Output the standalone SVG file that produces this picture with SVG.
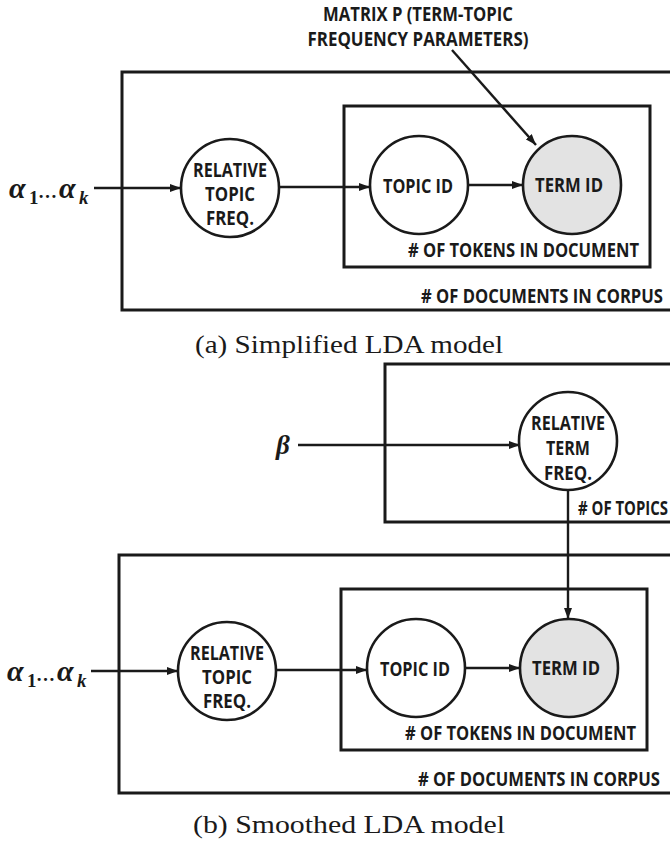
<svg xmlns="http://www.w3.org/2000/svg" width="670" height="842" viewBox="0 0 670 842">
  <style>
    .plate { fill: none; stroke: #1a1a1a; stroke-width: 3; }
    .node { fill: #ffffff; stroke: #1a1a1a; stroke-width: 2.6; }
    .obs { fill: #e3e3e3; }
    .edge { fill: none; stroke: #1a1a1a; stroke-width: 2.4; marker-end: url(#arrow); }
    .lbl { font-family: "Open Sans", Lato, "Liberation Sans", sans-serif; font-weight: 700; font-size: 19px; fill: #1a1a1a; }
    .mid { text-anchor: middle; }
    .math { font-family: "Liberation Serif", "DejaVu Serif", serif; font-weight: 700; font-style: italic; fill: #1a1a1a; }
    .cap { font-family: "Liberation Serif", "DejaVu Serif", serif; font-size: 25px; fill: #1a1a1a; }
  </style>
  <defs>
    <marker id="arrow" markerUnits="userSpaceOnUse" markerWidth="11" markerHeight="8" refX="11" refY="4" orient="auto">
      <path d="M0,0 L11,4 L0,8 z" fill="#1a1a1a"/>
    </marker>
  </defs>

  <rect width="670" height="842" fill="#ffffff"/>

  <!-- (a) simplified model -->
  <g id="a-documents-plate">
    <path class="plate" d="M670,72 H122 V310 H670"/>
    <text class="lbl" x="421" y="302.5" textLength="242" lengthAdjust="spacingAndGlyphs"># OF DOCUMENTS IN CORPUS</text>
  </g>
  <g id="a-tokens-plate">
    <rect class="plate" x="344" y="106" width="306" height="161"/>
    <text class="lbl" x="408" y="256.5" textLength="231" lengthAdjust="spacingAndGlyphs"># OF TOKENS IN DOCUMENT</text>
  </g>
  <g id="a-matrix-label">
    <text class="lbl mid" x="418" y="21" textLength="190" lengthAdjust="spacingAndGlyphs">MATRIX P (TERM-TOPIC</text>
    <text class="lbl mid" x="418" y="46" textLength="221" lengthAdjust="spacingAndGlyphs">FREQUENCY PARAMETERS)</text>
  </g>
  <g id="a-alpha">
    <text class="math" y="198"><tspan x="9" font-size="30">α</tspan><tspan x="29" y="204" font-size="19" font-style="normal">1</tspan><tspan x="38" y="198" font-size="19" font-style="normal">…</tspan><tspan x="59" y="198" font-size="30">α</tspan><tspan x="79" y="204" font-size="19">k</tspan></text>
  </g>
  <g id="a-topic-freq">
    <circle class="node" cx="230" cy="188" r="49"/>
    <text class="lbl mid" x="230" y="177" textLength="74" lengthAdjust="spacingAndGlyphs">RELATIVE</text>
    <text class="lbl mid" x="230" y="201" textLength="50" lengthAdjust="spacingAndGlyphs">TOPIC</text>
    <text class="lbl mid" x="230" y="225" textLength="48" lengthAdjust="spacingAndGlyphs">FREQ.</text>
  </g>
  <g id="a-topic-id">
    <circle class="node" cx="419" cy="185" r="49"/>
    <text class="lbl mid" x="418" y="193" textLength="70" lengthAdjust="spacingAndGlyphs">TOPIC ID</text>
  </g>
  <g id="a-term-id">
    <circle class="node obs" cx="572" cy="185" r="49"/>
    <text class="lbl mid" x="569" y="192" textLength="68" lengthAdjust="spacingAndGlyphs">TERM ID</text>
  </g>
  <g id="a-edges">
    <line class="edge" x1="94" y1="188" x2="181" y2="188"/>
    <line class="edge" x1="279" y1="187" x2="370" y2="187"/>
    <line class="edge" x1="468" y1="185" x2="523" y2="185"/>
    <line class="edge" x1="452" y1="50" x2="536" y2="145"/>
  </g>
  <text id="caption-a" class="cap" x="195" y="353" textLength="308" lengthAdjust="spacingAndGlyphs">(a) Simplified LDA model</text>

  <!-- (b) smoothed model -->
  <g id="b-topics-plate">
    <path class="plate" d="M670,364 H385 V522 H670"/>
    <text class="lbl" x="578" y="514.5" textLength="90" lengthAdjust="spacingAndGlyphs"># OF TOPICS</text>
  </g>
  <g id="b-documents-plate">
    <path class="plate" d="M670,555 H119 V793 H670"/>
    <text class="lbl" x="418" y="785.5" textLength="242" lengthAdjust="spacingAndGlyphs"># OF DOCUMENTS IN CORPUS</text>
  </g>
  <g id="b-tokens-plate">
    <rect class="plate" x="341" y="589" width="306" height="161"/>
    <text class="lbl" x="405" y="739.5" textLength="231" lengthAdjust="spacingAndGlyphs"># OF TOKENS IN DOCUMENT</text>
  </g>
  <g id="b-beta">
    <text class="math" x="276" y="454" font-size="27">β</text>
  </g>
  <g id="b-term-freq">
    <circle class="node" cx="568" cy="441" r="49"/>
    <text class="lbl mid" x="568" y="430" textLength="74" lengthAdjust="spacingAndGlyphs">RELATIVE</text>
    <text class="lbl mid" x="568" y="455" textLength="44" lengthAdjust="spacingAndGlyphs">TERM</text>
    <text class="lbl mid" x="568" y="480" textLength="48" lengthAdjust="spacingAndGlyphs">FREQ.</text>
  </g>
  <g id="b-alpha">
    <text class="math" y="681"><tspan x="7" font-size="30">α</tspan><tspan x="27" y="687" font-size="19" font-style="normal">1</tspan><tspan x="36" y="681" font-size="19" font-style="normal">…</tspan><tspan x="57" y="681" font-size="30">α</tspan><tspan x="77" y="687" font-size="19">k</tspan></text>
  </g>
  <g id="b-topic-freq">
    <circle class="node" cx="227" cy="671" r="49"/>
    <text class="lbl mid" x="227" y="660" textLength="74" lengthAdjust="spacingAndGlyphs">RELATIVE</text>
    <text class="lbl mid" x="227" y="684" textLength="50" lengthAdjust="spacingAndGlyphs">TOPIC</text>
    <text class="lbl mid" x="227" y="708" textLength="48" lengthAdjust="spacingAndGlyphs">FREQ.</text>
  </g>
  <g id="b-topic-id">
    <circle class="node" cx="416" cy="668" r="49"/>
    <text class="lbl mid" x="415" y="676" textLength="70" lengthAdjust="spacingAndGlyphs">TOPIC ID</text>
  </g>
  <g id="b-term-id">
    <circle class="node obs" cx="569" cy="668" r="49"/>
    <text class="lbl mid" x="566" y="675" textLength="68" lengthAdjust="spacingAndGlyphs">TERM ID</text>
  </g>
  <g id="b-edges">
    <line class="edge" x1="298" y1="445" x2="520" y2="445"/>
    <line class="edge" x1="568" y1="490" x2="568" y2="619"/>
    <line class="edge" x1="91" y1="671" x2="178" y2="671"/>
    <line class="edge" x1="276" y1="670" x2="367" y2="670"/>
    <line class="edge" x1="465" y1="668" x2="520" y2="668"/>
  </g>
  <text id="caption-b" class="cap" x="193" y="833" textLength="312" lengthAdjust="spacingAndGlyphs">(b) Smoothed LDA model</text>
</svg>
